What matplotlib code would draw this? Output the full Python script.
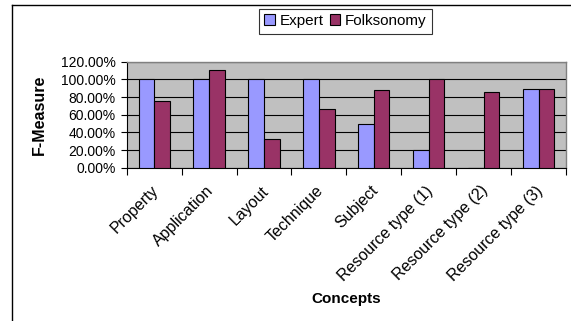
import matplotlib.pyplot as plt
import numpy as np
from matplotlib.lines import Line2D
from matplotlib.ticker import FuncFormatter
from matplotlib.transforms import ScaledTranslation

plt.rcParams["font.family"] = ["Liberation Sans", "DejaVu Sans"]

concepts = ["Property", "Application", "Layout", "Technique", "Subject",
            "Resource type (1)", "Resource type (2)", "Resource type (3)"]
expert = [100, 100, 100, 100, 49, 20, 0, 89]
folksonomy = [75, 111, 33, 66.7, 88.5, 100, 85.7, 89.5]


def main():
    fig = plt.figure(figsize=(5.71, 3.21), dpi=100)
    ax = fig.add_axes([0.2219, 0.4776, 0.7693, 0.3302])

    x = np.arange(len(concepts))
    w = 0.285
    ax.bar(x - w / 2, expert, w, color="#9999FF", edgecolor="black", linewidth=0.8,
           label="Expert", zorder=3)
    ax.bar(x + w / 2, folksonomy, w, color="#993366", edgecolor="black", linewidth=0.8,
           label="Folksonomy", zorder=3)

    ax.set_facecolor("#C0C0C0")
    ax.set_xlim(-0.5, len(concepts) - 0.5)
    ax.set_ylim(0, 120)
    ax.set_yticks(np.arange(0, 121, 20))
    ax.yaxis.set_major_formatter(FuncFormatter(lambda v, p: "%.2f%%" % v))
    ax.grid(axis="y", color="black", linewidth=0.8, zorder=1)

    # 刻度线在分类边界
    ax.set_xticks(x)
    ax.set_xticklabels(concepts, rotation=45, ha="right", rotation_mode="anchor")
    ax.set_xticks(np.arange(-0.5, len(concepts)), minor=True)
    ax.tick_params(axis="x", which="major", length=0, pad=11, labelsize=11.5)
    ax.tick_params(axis="x", which="minor", length=5, width=0.8, color="black")
    ax.tick_params(axis="y", length=4, width=0.8, labelsize=10, pad=4)
    shift = ScaledTranslation(-3 / 100, 0, fig.dpi_scale_trans)
    for lab in ax.get_xticklabels():
        lab.set_transform(lab.get_transform() + shift)

    for s in ["top", "right"]:
        ax.spines[s].set_color("#808080")
        ax.spines[s].set_linewidth(1.0)
    for s in ["left", "bottom"]:
        ax.spines[s].set_color("black")
        ax.spines[s].set_linewidth(0.8)

    ax.set_ylabel("F-Measure", fontweight="bold", fontsize=11.5, labelpad=10)
    ax.set_xlabel("Concepts", fontweight="bold", fontsize=11)
    ax.xaxis.set_label_coords(0.5, -1.17)

    leg = fig.legend(loc="center", bbox_to_anchor=(0.605, 0.934), ncol=2, fontsize=11,
                     frameon=True, fancybox=False, handlelength=0.7, handleheight=0.7,
                     handletextpad=0.3, columnspacing=0.4, borderpad=0.35)
    leg.get_frame().set_edgecolor("black")
    leg.get_frame().set_linewidth(0.8)

    # 外框
    fig.add_artist(Line2D([12 / 571, 12 / 571], [0, 1 - 4.5 / 321], color="black",
                          linewidth=1.0, transform=fig.transFigure))
    fig.add_artist(Line2D([12 / 571, 1], [1 - 4.5 / 321, 1 - 4.5 / 321], color="black",
                          linewidth=1.0, transform=fig.transFigure))

    fig.savefig("out.png", dpi=100)


if __name__ == '__main__':
    main()
